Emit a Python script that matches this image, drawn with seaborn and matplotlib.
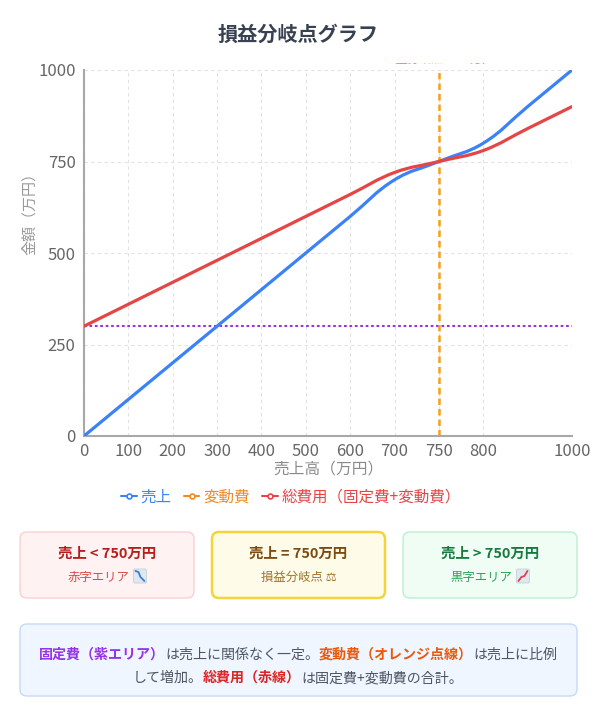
import matplotlib
matplotlib.use('Agg')
import matplotlib.pyplot as plt
import numpy as np
import pandas as pd
import seaborn as sns
from matplotlib.path import Path
from matplotlib.patches import PathPatch, FancyBboxPatch
from matplotlib.lines import Line2D
from matplotlib.transforms import Bbox, TransformedBbox

# data
sales_labels = [0, 100, 200, 300, 400, 500, 600, 700, 750, 800, 900, 1000]
sales = [0, 100, 200, 300, 400, 500, 600, 700, 750, 800, 900, 1000]
total_cost = [300, 360, 420, 480, 540, 600, 660, 720, 750, 780, 840, 900]
fixed_cost = [300, 300, 300, 300, 300, 300, 300, 300, 300, 300, 300, 300]
break_even = 750
y_ticks = [0, 250, 500, 750, 1000]

BLUE = '#3b82f6'
ORANGE = '#f08a24'
RED = '#e64545'
PURPLE = '#9333ea'
GRAY = '#666666'

sns.set_theme(style='white')
plt.rcParams['font.family'] = ['Noto Sans CJK JP', 'DejaVu Sans']

W, H = 597, 716
fig = plt.figure(figsize=(W / 100, H / 100), dpi=100)
ax = fig.add_axes([84 / W, 1 - 436 / H, 488 / W, 366 / H])

pos = np.arange(len(sales_labels))
df = pd.DataFrame({'pos': pos, 'sales': sales, 'total': total_cost, 'fixed': fixed_cost})


def smooth_path(xs, ys, tension=0.4):
    # chart.js style spline, computed in pixel units
    sx, sy = 488 / 11, 366 / 1000
    px, py = np.asarray(xs) * sx, np.asarray(ys) * sy
    n = len(px)
    prev_cp, next_cp = [], []
    for i in range(n):
        a = max(i - 1, 0)
        b = min(i + 1, n - 1)
        d01 = np.hypot(px[i] - px[a], py[i] - py[a])
        d12 = np.hypot(px[b] - px[i], py[b] - py[i])
        tot = d01 + d12
        s01 = d01 / tot if tot else 0
        s12 = d12 / tot if tot else 0
        dx, dy = px[b] - px[a], py[b] - py[a]
        prev_cp.append((px[i] - tension * s01 * dx, py[i] - tension * s01 * dy))
        next_cp.append((px[i] + tension * s12 * dx, py[i] + tension * s12 * dy))
    verts = [(px[0], py[0])]
    codes = [Path.MOVETO]
    for i in range(n - 1):
        verts += [next_cp[i], prev_cp[i + 1], (px[i + 1], py[i + 1])]
        codes += [Path.CURVE4] * 3
    verts = [(vx / sx, vy / sy) for vx, vy in verts]
    return Path(verts, codes)


# fixed cost (purple dotted)
sns.lineplot(data=df, x='pos', y='fixed', ax=ax, color=PURPLE, lw=1.5,
             linestyle=(0, (1.3, 1.3)), zorder=3)
# break even line
ax.axvline(sales_labels.index(break_even), color='#f5a01a', lw=1.8,
           linestyle=(0, (2.6, 1.6)), zorder=3)

for col, c in [('sales', BLUE), ('total', RED)]:
    ax.add_patch(PathPatch(smooth_path(df['pos'], df[col]), fill=False,
                           edgecolor=c, lw=2.3, capstyle='round', zorder=4))

ax.set_xlim(0, len(sales_labels) - 1)
ax.set_ylim(0, 1000)
shown = [i for i, v in enumerate(sales_labels) if v != 900]
ax.set_xticks(shown)
ax.set_xticklabels([str(sales_labels[i]) for i in shown])
ax.set_yticks(y_ticks)
ax.tick_params(axis='both', labelsize=12, colors='#a0a0a0', labelcolor=GRAY,
               length=5, width=1, direction='out', pad=1)
ax.tick_params(axis='x', pad=0)
ax.grid(True, color='#e2e2e2', lw=0.8, linestyle=(0, (3, 3)))
for s in ['top', 'right']:
    ax.spines[s].set_visible(False)
for s in ['left', 'bottom']:
    ax.spines[s].set_color('#a8a8a8')
    ax.spines[s].set_linewidth(1.5)
ax.set_xlabel('売上高（万円）', fontsize=11.3, color='#8a8a8a', labelpad=0.5)
ax.set_ylabel('金額（万円）', fontsize=10.8, color='#999999')
ax.yaxis.set_label_coords(-(84 - 37) / 488, (436 - 210) / 366)

handles = [Line2D([0], [0], color=c, lw=1.5, marker='o', markersize=3.5,
                  markerfacecolor='white', markeredgewidth=1.2)
           for c in [BLUE, ORANGE, RED]]
fig.legend(handles, ['売上', '変動費', '総費用（固定費+変動費）'], loc='center',
           bbox_to_anchor=(291 / W, 1 - 497 / H), ncol=3, frameon=False,
           fontsize=11.2, labelcolor=[BLUE, ORANGE, RED], handlelength=1.0,
           handletextpad=0.25, columnspacing=0.8)

fig.text(298 / W, 1 - 34 / H, '損益分岐点グラフ', ha='center', va='center',
         fontsize=14.5, fontweight='bold', color='#374151')

# overlays in pixel coords for boxes and notes
ov = fig.add_axes([0, 0, 1, 1], zorder=-1)
ov.set_xlim(0, W)
ov.set_ylim(H, 0)
ov.axis('off')
ov2 = fig.add_axes([0, 0, 1, 1], zorder=5)
ov2.set_xlim(0, W)
ov2.set_ylim(H, 0)
ov2.axis('off')

# label above break-even line, mostly cut off like the reference
lab = ov2.text(439, 66, '損益分岐点: 750万円', ha='center', va='bottom',
               fontsize=8.5, fontweight='bold', color='#f5a01a', clip_on=True)
lab.set_clip_box(TransformedBbox(Bbox([[395, 62.5], [485, 66]]), ov2.transData))


def icon(x, y, kind):
    # stand-in for the chart emoji
    ov2.add_patch(FancyBboxPatch((x, y - 7), 13, 14, boxstyle='round,pad=0,rounding_size=1.5',
                                 fc='#dfe7ef', ec='#c5d0da', lw=0.6))
    if kind == 'down':
        ov2.plot([x + 2, x + 5, x + 7, x + 11], [y - 5, y - 4, y + 1, y + 5],
                 color='#3b7dd8', lw=1.3, solid_capstyle='round')
    else:
        ov2.plot([x + 2, x + 5, x + 8, x + 11], [y + 5, y + 1, y, y - 5],
                 color='#e0404a', lw=1.3, solid_capstyle='round')


boxes = [
    (20, 194, '#fef2f2', '#fbcfd3', 1.0, '売上 < 750万円', '#b91c1c', '赤字エリア', '#dc4a4a', 'down'),
    (212, 385, '#fefce8', '#f5d33a', 1.8, '売上 = 750万円', '#7c4a0e', '損益分岐点 ⚖️', '#a0702a', None),
    (403, 577, '#f0fdf4', '#bbf0cf', 1.0, '売上 > 750万円', '#167a3e', '黒字エリア', '#2aa35a', 'up'),
]
renderer = fig.canvas.get_renderer()
for x0, x1, fc, ec, lw, t1, c1, t2, c2, kind in boxes:
    ov.add_patch(FancyBboxPatch((x0, 532), x1 - x0, 66, boxstyle='round,pad=0,rounding_size=7',
                                fc=fc, ec=ec, lw=lw))
    ov.text((x0 + x1) / 2, 554, t1, ha='center', va='center', fontsize=10.4,
            fontweight='bold', color=c1)
    if kind is None:
        ov.text((x0 + x1) / 2, 577, t2, ha='center', va='center', fontsize=8.9, color=c2)
    else:
        t = ov.text(0, 577, t2, ha='left', va='center', fontsize=8.9, color=c2)
        w = t.get_window_extent(renderer).width
        x = (x0 + x1) / 2 - (w + 17) / 2
        t.set_x(x)
        icon(x + w + 4, 576, kind)

ov.add_patch(FancyBboxPatch((20, 624), 557, 72, boxstyle='round,pad=0,rounding_size=7',
                            fc='#eff6ff', ec='#c4daf7', lw=1.0))

note_lines = [
    [('固定費（紫エリア）', PURPLE, 'bold'), ('は売上に関係なく一定。', '#4b5563', 'normal'),
     ('変動費（オレンジ点線）', '#ea580c', 'bold'), ('は売上に比例', '#4b5563', 'normal')],
    [('して増加。', '#4b5563', 'normal'), ('総費用（赤線）', '#dc2626', 'bold'),
     ('は固定費+変動費の合計。', '#4b5563', 'normal')],
]
for ly, segs in zip([655, 678], note_lines):
    items = []
    for txt, c, wgt in segs:
        t = ov2.text(0, ly, txt, ha='left', va='center', fontsize=10.1, color=c, fontweight=wgt)
        items.append((t, t.get_window_extent(renderer).width))
    total = sum(w for _, w in items)
    x = 298 - total / 2
    for t, w in items:
        t.set_x(x)
        x += w

fig.savefig('out.png', dpi=100)
